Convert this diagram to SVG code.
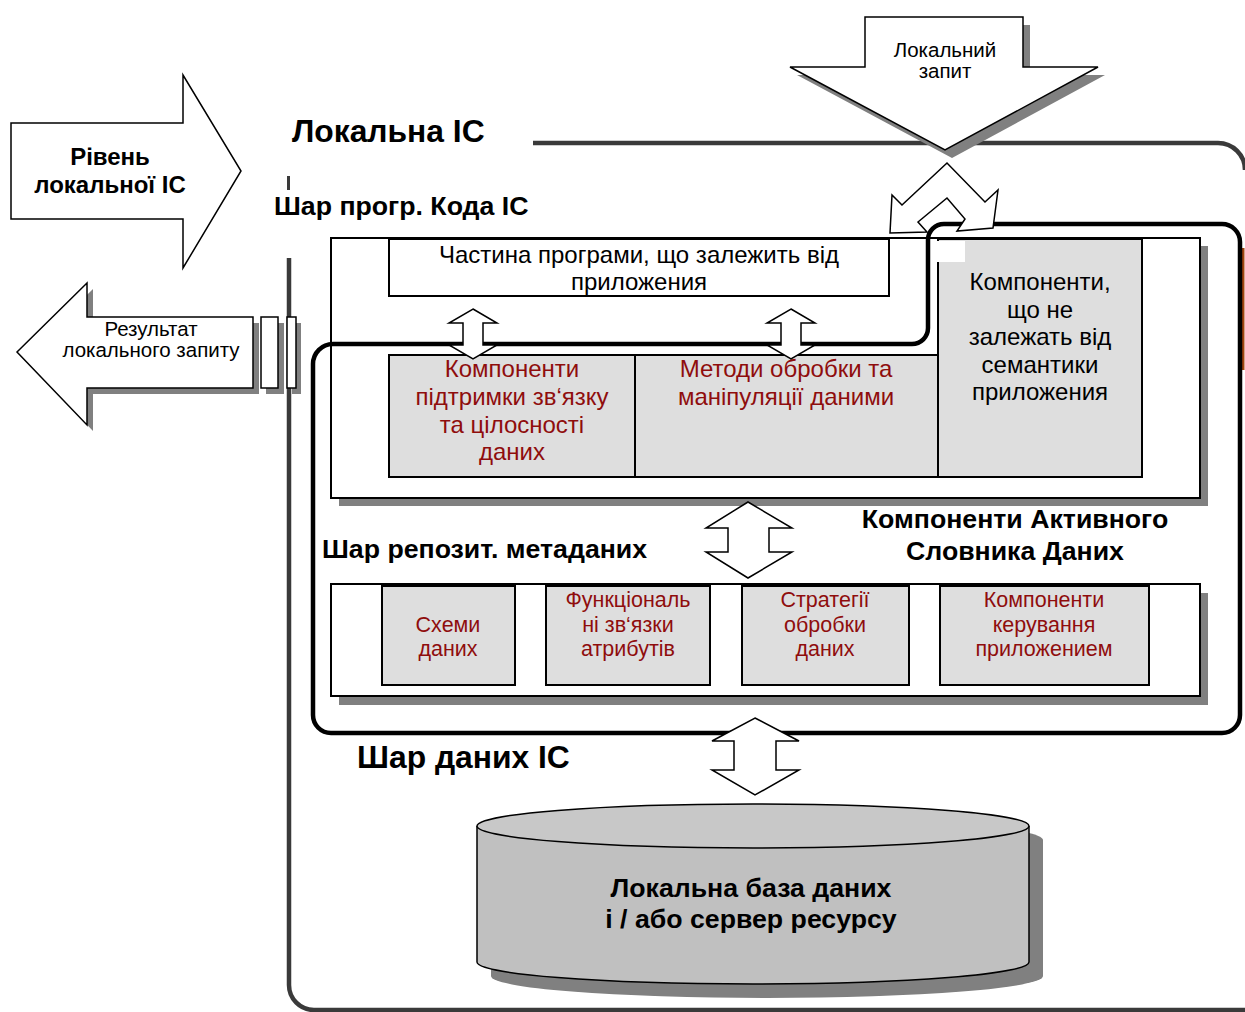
<svg xmlns="http://www.w3.org/2000/svg" width="1245" height="1012" viewBox="0 0 1245 1012">
  <defs>
    <style>
      text { font-family: "Liberation Sans", Arial, sans-serif; }
      .t { fill: #000; }
      .b { font-weight: bold; fill: #000; }
      .red { fill: #8f0d0d; }
      .c { text-anchor: middle; }
      .box { fill: #fff; stroke: #000; stroke-width: 2; }
      .gbox { fill: #dedede; stroke: #000; stroke-width: 2; }
      .shadow { fill: #808080; stroke: none; }
      .arrow { fill: #fff; stroke: #000; stroke-width: 1.5; stroke-linejoin: miter; }
      .frame { fill: none; stroke: #3a3a3a; stroke-width: 4.5; }
      .add { fill: none; stroke: #000; stroke-width: 4.5; }
      .f24 { font-size: 24px; }
      .f21 { font-size: 21.5px; }
      .h27 { font-size: 26.7px; }
    </style>
  </defs>
  <rect width="1245" height="1012" fill="#fff"/>

  <!-- outer frame of the local IS -->
  <g id="frame">
    <path class="frame" d="M533,143 H1218 A27,27 0 0 1 1245,170"/>
    <path class="frame" d="M289,258 V985 A25,25 0 0 0 314,1010 H1245"/>
    <line x1="288.5" y1="176" x2="288.5" y2="190" stroke="#3a3a3a" stroke-width="3"/>
    <line x1="1243" y1="248" x2="1243" y2="370" stroke="#a0440f" stroke-width="3"/>
    <text class="b" x="292" y="142" font-size="31.8">Локальна ІС</text>
    <text class="b h27" x="274" y="215">Шар прогр. Кода ІС</text>
    <text class="b" x="357" y="768" font-size="31.8">Шар даних ІС</text>
  </g>

  <!-- program code layer -->
  <g id="code-layer">
    <rect class="shadow" x="339" y="246" width="869" height="260"/>
    <rect class="box" x="331" y="238" width="869" height="260"/>
  </g>

  <g id="app-part">
    <rect class="box" x="389" y="239" width="500" height="57"/>
    <text class="t c f24" x="639" y="263">Частина програми, що залежить від</text>
    <text class="t c f24" x="639" y="290">приложения</text>
  </g>

  <g id="independent-part">
    <rect class="gbox" x="938" y="239" width="204" height="238"/>
    <rect x="931" y="241" width="34" height="21" fill="#fff"/>
    <text class="t c f24" x="1040" y="290">Компоненти,</text>
    <text class="t c f24" x="1040" y="318">що не</text>
    <text class="t c f24" x="1040" y="345">залежать від</text>
    <text class="t c f24" x="1040" y="373">семантики</text>
    <text class="t c f24" x="1040" y="400">приложения</text>
  </g>

  <g id="integrity-part">
    <rect class="gbox" x="389" y="355" width="246" height="122"/>
    <text class="red c f24" x="512" y="377">Компоненти</text>
    <text class="red c f24" x="512" y="405">підтримки зв‘язку</text>
    <text class="red c f24" x="512" y="433">та цілосності</text>
    <text class="red c f24" x="512" y="460">даних</text>
  </g>

  <g id="methods-part">
    <rect class="gbox" x="635" y="355" width="303" height="122"/>
    <text class="red c f24" x="786" y="377">Методи обробки та</text>
    <text class="red c f24" x="786" y="405">маніпуляції даними</text>
  </g>

  <!-- metadata repository layer -->
  <g id="repo-layer">
    <rect class="shadow" x="339" y="593" width="869" height="112"/>
    <rect class="box" x="331" y="584" width="869" height="112"/>
    <text class="b h27" x="322" y="558">Шар репозит. метаданих</text>
  </g>

  <g id="schemas">
    <rect class="gbox" x="382" y="586" width="133" height="99"/>
    <text class="red c f21" x="448" y="632">Схеми</text>
    <text class="red c f21" x="448" y="656">даних</text>
  </g>
  <g id="functional-links">
    <rect class="gbox" x="546" y="586" width="164" height="99"/>
    <text class="red c f21" x="628" y="607">Функціональ</text>
    <text class="red c f21" x="628" y="632">ні зв‘язки</text>
    <text class="red c f21" x="628" y="656">атрибутів</text>
  </g>
  <g id="strategies">
    <rect class="gbox" x="742" y="586" width="167" height="99"/>
    <text class="red c f21" x="825" y="607">Стратегії</text>
    <text class="red c f21" x="825" y="632">обробки</text>
    <text class="red c f21" x="825" y="656">даних</text>
  </g>
  <g id="app-control">
    <rect class="gbox" x="940" y="586" width="209" height="99"/>
    <text class="red c f21" x="1044" y="607">Компоненти</text>
    <text class="red c f21" x="1044" y="632">керування</text>
    <text class="red c f21" x="1044" y="656">приложением</text>
  </g>

  <!-- active data dictionary boundary -->
  <g id="active-dictionary">
    <path class="add" d="M313,364 A20,20 0 0 1 333,344 H912 A16,16 0 0 0 928,328 V240 A16,16 0 0 1 944,224 H1222 A18,18 0 0 1 1240,242 V715 A18,18 0 0 1 1222,733 H331 A18,18 0 0 1 313,715 Z"/>
    <text class="b c h27" x="1015" y="528">Компоненти Активного</text>
    <text class="b c h27" x="1015" y="560">Словника Даних</text>
  </g>

  <!-- database -->
  <g id="database">
    <path class="shadow" d="M491,840 A276,22 0 0 1 1043,840 V976 A276,22 0 0 1 491,976 Z"/>
    <path d="M477,826 V962 A276,22 0 0 0 1029,962 V826" fill="#c0c0c0" stroke="#000" stroke-width="1.5"/>
    <ellipse cx="753" cy="826" rx="276" ry="22" fill="#c8c8c8" stroke="#000" stroke-width="1.5"/>
    <text class="b c h27" x="751" y="897">Локальна база даних</text>
    <text class="b c h27" x="751" y="928">і / або сервер ресурсу</text>
  </g>

  <!-- request / result arrows -->
  <g id="level-arrow">
    <polygon class="arrow" points="11,123 183,123 183,75 241,171 183,268 183,219 11,219"/>
    <text class="b c f24" x="110" y="165">Рівень</text>
    <text class="b c f24" x="110" y="193">локальної ІС</text>
  </g>

  <g id="result-arrow">
    <polygon class="shadow" points="23,358 93,289 93,323 259,323 259,394 93,394 93,431"/>
    <polygon class="arrow" points="17,352 87,283 87,317 253,317 253,388 87,388 87,425"/>
    <rect class="shadow" x="266" y="323" width="18" height="71"/>
    <rect class="arrow" x="261" y="317" width="17" height="71"/>
    <rect class="shadow" x="292" y="323" width="9" height="71"/>
    <rect class="arrow" x="287" y="317" width="9" height="71"/>
    <text class="t c" x="151" y="336" font-size="20.5">Результат</text>
    <text class="t c" x="151" y="357" font-size="20.5">локального запиту</text>
  </g>

  <g id="request-arrow">
    <polygon class="shadow" points="872,25 1030,25 1030,75 1105,75 952,158 797,75 872,75"/>
    <polygon class="arrow" points="865,17 1023,17 1023,67 1098,67 945,150 790,67 865,67"/>
    <text class="t c" x="945" y="57" font-size="20.5">Локальний</text>
    <text class="t c" x="945" y="78" font-size="20.5">запит</text>
  </g>

  <!-- connectors between layers -->
  <g id="connectors">
    <polygon class="arrow" points="890,233 892,195 902,205 947,163 985,202 998,190 993,228 957,231 965,219 947,198 918,222 927,232"/>
    <polygon class="arrow" points="473,309 497,323 483,323 483,345 497,345 473,359 449,345 463,345 463,323 449,323"/>
    <polygon class="arrow" points="791,309 815,323 801,323 801,345 815,345 791,359 767,345 781,345 781,323 767,323"/>
    <polygon class="arrow" points="748,502 792,528 769,528 769,552 792,552 748,578 706,552 728,552 728,528 706,528"/>
    <polygon class="arrow" points="755,718 799,741 776,741 776,770 799,770 755,795 712,770 734,770 734,741 712,741"/>
  </g>
</svg>
